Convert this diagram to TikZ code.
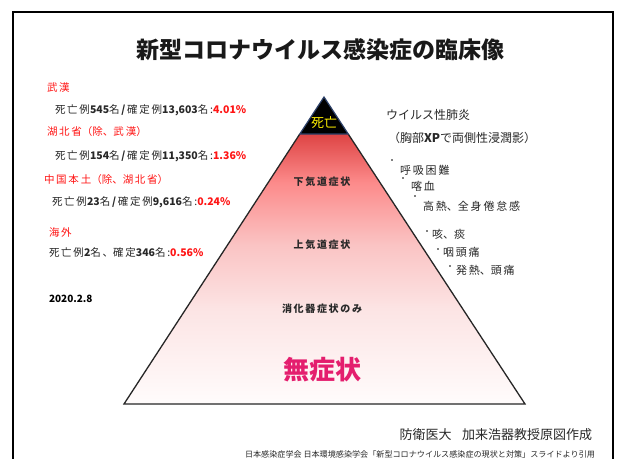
\documentclass[tikz,border=0pt]{standalone}
\usepackage{fontspec}
\setmainfont{Noto Sans CJK JP}
\definecolor{txtred}{RGB}{255,20,20}
\definecolor{mag}{RGB}{228,30,110}
\definecolor{deathyellow}{RGB}{255,240,0}
\definecolor{edgeblue}{RGB}{45,65,105}
\definecolor{txtgray}{RGB}{40,40,40}
\definecolor{pc0}{RGB}{222,68,68}
\definecolor{pc1}{RGB}{252,138,138}
\definecolor{pc2}{RGB}{250,196,196}
\definecolor{pc3}{RGB}{252,228,228}
\definecolor{pc4}{RGB}{255,252,252}
\pgfdeclareverticalshading{pyr}{100bp}{color(0bp)=(pc4); color(25bp)=(pc4); color(42.6bp)=(pc3); color(54.4bp)=(pc2); color(66.1bp)=(pc1); color(75bp)=(pc0); color(100bp)=(pc0)}
\newcommand\fs[1]{\fontsize{#1}{#1}\selectfont}
\begin{document}
\begin{tikzpicture}[x=1pt,y=-1pt,
  every node/.style={inner sep=0pt,outer sep=0pt},
  lefthead/.style={anchor=west,text=txtred,font=\fs{10.5}},
  leftline/.style={anchor=west,text=txtgray,font=\fs{10.5}},
  righttxt/.style={anchor=west,text=txtgray,font=\fs{12}},
  symptom/.style={anchor=west,text=txtgray,font=\fs{11}},
  bul/.style={circle,fill=black,minimum size=1.8pt},
  level/.style={text=txtgray,font=\bfseries\fs{10}}
]
\useasboundingbox (0,0) rectangle (618,458);
\fill[white] (0,0) rectangle (618,458);
% frame
\draw[line width=2pt] (13,470) -- (13,12) -- (613,12) -- (613,470);
% title
\node[text=black!90,font=\bfseries\fs{23}] (title) at (320,50) {新型コロナウイルス感染症の臨床像};
% pyramid
\coordinate (apex) at (324,97);
\coordinate (bl) at (124,404);
\coordinate (br) at (525,404);
\coordinate (pl) at (299.8,134);
\coordinate (pr) at (348.2,134);
\shade[shading=pyr] (pl) -- (pr) -- (br) -- (bl) -- cycle;
\fill[black] (apex) -- (pl) -- (pr) -- cycle;
\draw[black!85,line width=1.3pt,line join=miter] (pr) -- (br) -- (bl) -- (pl);
\draw[edgeblue,line width=1.2pt,line join=miter] (pl) -- (apex) -- (pr) -- cycle;
\node[text=deathyellow,font=\fs{13}] (death) at (324,123) {死亡};
\node[level] (lower) at (322,182) {下\,気\,道\,症\,状};
\node[level] (upper) at (322,245) {上\,気\,道\,症\,状};
\node[level] (gi) at (322,309) {消\,化\,器\,症\,状\,の\,み};
\node[text=mag,font=\bfseries\fs{26}] (asym) at (322,370) {無症状};
% right side
\node[righttxt] (pneu) at (386,115) {ウイルス性肺炎};
\node[righttxt] (xp) at (388,138) {（胸部\textbf{XP}で両側性浸潤影）};
\node[bul] (b1) at (392,160) {};
\node[symptom] (s1) at (400,170) {呼\,吸\,困\,難};
\node[bul] (b2) at (403,178) {};
\node[symptom] (s2) at (411,186) {喀\,血};
\node[bul] (b3) at (415,196) {};
\node[symptom] (s3) at (423,206) {高\,熱、全\,身\,倦\,怠\,感};
\node[bul] (b4) at (427,231) {};
\node[symptom] (s4) at (432,234) {咳、痰};
\node[bul] (b5) at (438,249) {};
\node[symptom] (s5) at (443,252) {咽\,頭\,痛};
\node[bul] (b6) at (450,266) {};
\node[symptom] (s6) at (456,270) {発\,熱、頭\,痛};
% left side
\node[lefthead] (wuhan) at (47,88) {武\,漢};
\node[leftline] (l1) at (55,110) {死\,亡\,例\textbf{545}名\,\textbf{/}\,確\,定\,例\textbf{13,603}名\,:\textcolor{txtred}{\textbf{4.01\%}}};
\node[lefthead] (hubei) at (47,132) {湖\,北\,省（除、武\,漢）};
\node[leftline] (l2) at (55,156) {死\,亡\,例\textbf{154}名\,\textbf{/}\,確\,定\,例\textbf{11,350}名\,:\textcolor{txtred}{\textbf{1.36\%}}};
\node[lefthead] (china) at (44,180) {中\,国\,本\,土（除、湖\,北\,省）};
\node[leftline] (l3) at (52,202) {死\,亡\,例\textbf{23}名\,\textbf{/}\,確\,定\,例\textbf{9,616}名\,:\textcolor{txtred}{\textbf{0.24\%}}};
\node[lefthead] (abroad) at (49,232) {海\,外};
\node[leftline] (l4) at (49,253) {死\,亡\,例\textbf{2}名\,、確\,定\textbf{346}名\,:\textcolor{txtred}{\textbf{0.56\%}}};
\node[anchor=west,font=\bfseries\fs{10}] (date) at (49,299) {2020.2.8};
% bottom
\node[anchor=east,text=txtgray,font=\fs{13}] (author) at (592,435) {防衛医大\hspace{0.8em}加来浩器教授原図作成};
\node[text=txtgray,font=\fs{8.1}] (cite) at (420,454) {日本感染症学会 日本環境感染学会「新型コロナウイルス感染症の現状と対策」スライドより引用};
\end{tikzpicture}
\end{document}
